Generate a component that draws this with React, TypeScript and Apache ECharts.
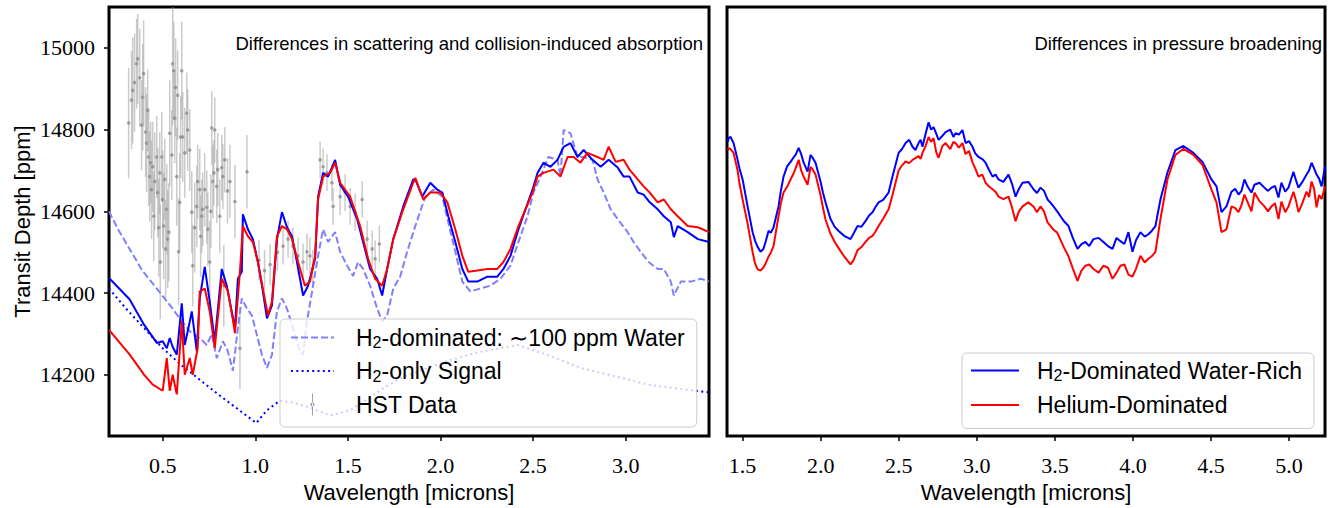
import React, { useEffect, useRef } from "react";
import * as echarts from "echarts";

// ---------- tick values ----------
const leftXTicks = [0.5, 1.0, 1.5, 2.0, 2.5, 3.0];
const rightXTicks = [1.5, 2.0, 2.5, 3.0, 3.5, 4.0, 4.5, 5.0];
const yTicks = [14200, 14400, 14600, 14800, 15000];

// ---------- left panel: H2-dominated water-rich model (solid blue) ----------
const leftH2Rich: [number, number][] = [
  [0.21, 14437], [0.321, 14385], [0.4, 14322], [0.468, 14278], [0.5, 14282], [0.522, 14265], [0.538, 14290], [0.554, 14268], [0.576, 14249], [0.603, 14375],
  [0.619, 14273], [0.646, 14330], [0.657, 14355], [0.684, 14258], [0.7, 14387], [0.727, 14464], [0.754, 14379], [0.781, 14282], [0.819, 14459], [0.846, 14418],
  [0.89, 14314], [0.906, 14435], [0.927, 14452], [0.933, 14593], [0.96, 14556], [0.987, 14532], [1.014, 14476], [1.041, 14404], [1.063, 14338], [1.09, 14370],
  [1.117, 14532], [1.144, 14598], [1.171, 14561], [1.198, 14539], [1.225, 14476], [1.258, 14394], [1.285, 14418], [1.323, 14484], [1.339, 14636], [1.366, 14694],
  [1.393, 14685], [1.431, 14726], [1.458, 14665], [1.501, 14636], [1.55, 14581], [1.582, 14525], [1.62, 14459], [1.658, 14435], [1.685, 14394], [1.712, 14459],
  [1.745, 14532], [1.799, 14612], [1.853, 14678], [1.864, 14678], [1.902, 14636], [1.945, 14670], [1.983, 14653], [2.01, 14646], [2.042, 14588], [2.08, 14525],
  [2.118, 14459], [2.15, 14428], [2.199, 14428], [2.253, 14440], [2.307, 14440], [2.34, 14459], [2.378, 14491], [2.421, 14556], [2.459, 14605], [2.497, 14653],
  [2.524, 14694], [2.556, 14719], [2.594, 14709], [2.632, 14726], [2.665, 14758], [2.702, 14767], [2.74, 14733], [2.773, 14750], [2.821, 14726], [2.865, 14709],
  [2.908, 14726], [2.957, 14707], [2.989, 14685], [3.021, 14685], [3.065, 14646], [3.097, 14641], [3.13, 14622], [3.173, 14605], [3.206, 14588], [3.244, 14573],
  [3.26, 14537], [3.281, 14564], [3.335, 14549], [3.39, 14532], [3.45, 14525],
];

// ---------- left panel: helium-dominated model (solid red) ----------
const leftHelium: [number, number][] = [
  [0.21, 14310], [0.321, 14250], [0.4, 14200], [0.446, 14176], [0.5, 14161], [0.522, 14241], [0.538, 14161], [0.554, 14200], [0.576, 14152], [0.603, 14331],
  [0.619, 14200], [0.646, 14241], [0.662, 14200], [0.689, 14265], [0.7, 14404], [0.727, 14411], [0.754, 14355], [0.781, 14265], [0.819, 14435], [0.852, 14404],
  [0.879, 14335], [0.89, 14302], [0.917, 14452], [0.933, 14564], [0.96, 14539], [0.987, 14525], [1.014, 14476], [1.041, 14411], [1.068, 14345], [1.09, 14379],
  [1.117, 14539], [1.144, 14564], [1.171, 14556], [1.198, 14532], [1.231, 14476], [1.268, 14418], [1.295, 14428], [1.323, 14491], [1.339, 14629], [1.366, 14685],
  [1.404, 14694], [1.431, 14719], [1.458, 14670], [1.512, 14636], [1.566, 14564], [1.609, 14484], [1.647, 14435], [1.685, 14418], [1.712, 14459], [1.745, 14532],
  [1.799, 14605], [1.853, 14670], [1.864, 14682], [1.907, 14629], [1.945, 14646], [1.999, 14646], [2.037, 14622], [2.08, 14556], [2.118, 14491], [2.15, 14452],
  [2.199, 14455], [2.253, 14459], [2.307, 14459], [2.34, 14476], [2.378, 14508], [2.421, 14564], [2.459, 14605], [2.497, 14646], [2.524, 14685], [2.556, 14694],
  [2.61, 14702], [2.648, 14685], [2.686, 14733], [2.719, 14733], [2.756, 14719], [2.794, 14743], [2.848, 14733], [2.881, 14726], [2.908, 14758], [2.946, 14721],
  [2.989, 14726], [3.021, 14702], [3.065, 14678], [3.097, 14661], [3.13, 14646], [3.173, 14622], [3.206, 14629], [3.244, 14605], [3.281, 14588], [3.335, 14564],
  [3.39, 14561], [3.45, 14549],
];

// ---------- left panel: H2-dominated, ~100 ppm water (dashed) ----------
const h2Dominated100ppm: [number, number][] = [
  [0.21, 14600], [0.26, 14555], [0.321, 14508], [0.39, 14455], [0.468, 14411], [0.54, 14370], [0.603, 14331], [0.65, 14305], [0.7, 14290], [0.738, 14273],
  [0.765, 14300], [0.792, 14241], [0.825, 14282], [0.85, 14260], [0.879, 14210], [0.906, 14314], [0.927, 14387], [0.955, 14362], [0.982, 14345], [1.009, 14297],
  [1.036, 14249], [1.063, 14217], [1.09, 14249], [1.117, 14355], [1.144, 14387], [1.171, 14362], [1.203, 14314], [1.241, 14258], [1.258, 14249], [1.279, 14331],
  [1.312, 14418], [1.339, 14491], [1.366, 14556], [1.393, 14525], [1.431, 14549], [1.458, 14501], [1.496, 14467], [1.528, 14442], [1.555, 14476], [1.582, 14459],
  [1.62, 14418], [1.658, 14362], [1.685, 14331], [1.712, 14345], [1.745, 14411], [1.782, 14440], [1.82, 14501], [1.864, 14564], [1.918, 14636], [1.961, 14653],
  [2.01, 14636], [2.042, 14573], [2.08, 14501], [2.118, 14428], [2.161, 14404], [2.215, 14411], [2.269, 14418], [2.324, 14435], [2.378, 14467], [2.421, 14525],
  [2.47, 14588], [2.502, 14646], [2.54, 14685], [2.583, 14733], [2.632, 14726], [2.648, 14685], [2.665, 14799], [2.702, 14791], [2.74, 14733], [2.773, 14733],
  [2.821, 14726], [2.848, 14678], [2.881, 14646], [2.919, 14605], [2.957, 14581], [3.011, 14549], [3.043, 14525], [3.081, 14501], [3.124, 14476], [3.173, 14459],
  [3.206, 14459], [3.244, 14428], [3.26, 14394], [3.298, 14428], [3.352, 14428], [3.406, 14435], [3.45, 14428],
];

// ---------- left panel: H2-only signal (dotted) ----------
const h2OnlySignal: [number, number][] = [
  [0.21, 14411], [0.3, 14363], [0.4, 14314], [0.5, 14265], [0.6, 14224], [0.7, 14188], [0.8, 14152], [0.9, 14118], [1.005, 14082], [1.063, 14113],
  [1.133, 14137], [1.203, 14132], [1.295, 14120], [1.404, 14100], [1.512, 14113], [1.604, 14140], [1.7, 14170], [1.8, 14195], [2.037, 14234], [2.2, 14255],
  [2.416, 14273], [2.6, 14245], [2.756, 14217], [3.0, 14190], [3.119, 14176], [3.3, 14165], [3.45, 14157],
];

// ---------- left panel: HST data [wavelength, depth, error] ----------
const hstData: [number, number, number][] = [
  [0.316, 14816, 135], [0.332, 14872, 120], [0.338, 14896, 130], [0.348, 14915, 120], [0.359, 14961, 110], [0.365, 14973, 110], [0.376, 14927, 120], [0.386, 14811, 110],
  [0.392, 14879, 130], [0.397, 14937, 130], [0.408, 14794, 110], [0.413, 14767, 120], [0.419, 14847, 100], [0.424, 14733, 120], [0.43, 14685, 110], [0.435, 14719, 100],
  [0.44, 14653, 120], [0.446, 14709, 110], [0.452, 14588, 110], [0.457, 14673, 120], [0.468, 14733, 100], [0.473, 14646, 110], [0.479, 14560, 120], [0.484, 14694, 100],
  [0.487, 14476, 140], [0.495, 14733, 110], [0.5, 14629, 120], [0.505, 14564, 130], [0.511, 14678, 100], [0.516, 14508, 120], [0.522, 14605, 110], [0.527, 14532, 120],
  [0.533, 14549, 120], [0.538, 14791, 130], [0.549, 14738, 110], [0.554, 14961, 150], [0.56, 14944, 120], [0.565, 14828, 110], [0.57, 14903, 120], [0.576, 14685, 120],
  [0.581, 14884, 110], [0.586, 14501, 130], [0.592, 14622, 120], [0.597, 14782, 100], [0.603, 14944, 120], [0.608, 14782, 110], [0.619, 14743, 110], [0.63, 14840, 100],
  [0.635, 14799, 100], [0.646, 14750, 100], [0.657, 14598, 100], [0.662, 14467, 100], [0.673, 14560, 110], [0.684, 14612, 100], [0.689, 14673, 90], [0.7, 14653, 100],
  [0.705, 14539, 100], [0.711, 14588, 90], [0.716, 14605, 90], [0.727, 14653, 90], [0.738, 14610, 90], [0.744, 14556, 90], [0.754, 14476, 100], [0.76, 14600, 90],
  [0.765, 14804, 90], [0.771, 14673, 90], [0.776, 14694, 80], [0.781, 14799, 80], [0.792, 14661, 90], [0.797, 14702, 90], [0.808, 14588, 90], [0.819, 14707, 80],
  [0.825, 14685, 80], [0.83, 14418, 100], [0.835, 14726, 80], [0.85, 14650, 80], [0.863, 14673, 90], [0.89, 14624, 90], [0.917, 14265, 100], [0.955, 14697, 90],
  [1.02, 14480, 50], [1.05, 14455, 50], [1.08, 14470, 50], [1.12, 14500, 45], [1.15, 14515, 45], [1.177, 14532, 45], [1.203, 14515, 45], [1.231, 14491, 45],
  [1.258, 14476, 45], [1.279, 14501, 45], [1.295, 14491, 45], [1.31, 14460, 45], [1.35, 14726, 45], [1.366, 14709, 45], [1.387, 14694, 45], [1.414, 14670, 45],
  [1.42, 14612, 45], [1.458, 14636, 45], [1.485, 14646, 45], [1.512, 14612, 45], [1.539, 14598, 45], [1.577, 14629, 45], [1.604, 14532, 45], [1.631, 14508, 45],
  [1.647, 14484, 45], [1.67, 14520, 45],
];

// ---------- right panel: H2-dominated water-rich (blue) ----------
const rightH2Rich: [number, number][] = [
  [1.405, 14770], [1.41, 14779], [1.423, 14782], [1.442, 14767], [1.468, 14726], [1.48, 14705], [1.5, 14678], [1.532, 14612], [1.564, 14549], [1.58, 14528],
  [1.596, 14513], [1.615, 14501], [1.632, 14507], [1.647, 14525], [1.666, 14552], [1.682, 14548], [1.698, 14561], [1.73, 14612], [1.745, 14650], [1.762, 14685],
  [1.785, 14710], [1.807, 14721], [1.823, 14730], [1.839, 14738], [1.859, 14755], [1.875, 14740], [1.891, 14719], [1.916, 14697], [1.935, 14738], [1.95, 14730],
  [1.967, 14719], [1.999, 14673], [2.015, 14645], [2.031, 14622], [2.063, 14581], [2.09, 14562], [2.115, 14552], [2.15, 14540], [2.191, 14532], [2.21, 14545],
  [2.236, 14564], [2.26, 14562], [2.287, 14576], [2.31, 14590], [2.332, 14598], [2.35, 14610], [2.371, 14622], [2.4, 14628], [2.435, 14646], [2.46, 14685],
  [2.499, 14743], [2.52, 14752], [2.544, 14767], [2.567, 14775], [2.588, 14758], [2.607, 14750], [2.627, 14767], [2.64, 14775], [2.652, 14758], [2.672, 14790],
  [2.691, 14818], [2.707, 14800], [2.723, 14806], [2.74, 14790], [2.755, 14775], [2.78, 14785], [2.8, 14794], [2.83, 14800], [2.85, 14782], [2.864, 14791],
  [2.885, 14788], [2.908, 14799], [2.928, 14767], [2.95, 14772], [2.972, 14758], [2.99, 14742], [3.011, 14733], [3.035, 14728], [3.056, 14719], [3.08, 14700],
  [3.101, 14685], [3.12, 14690], [3.139, 14678], [3.17, 14672], [3.203, 14690], [3.225, 14668], [3.248, 14636], [3.27, 14655], [3.293, 14670], [3.33, 14672],
  [3.363, 14654], [3.385, 14645], [3.408, 14658], [3.43, 14650], [3.453, 14629], [3.47, 14622], [3.491, 14612], [3.515, 14600], [3.536, 14588], [3.56, 14575],
  [3.587, 14564], [3.615, 14535], [3.645, 14508], [3.67, 14520], [3.696, 14525], [3.72, 14515], [3.747, 14532], [3.78, 14535], [3.811, 14525], [3.84, 14515],
  [3.869, 14508], [3.895, 14535], [3.92, 14527], [3.945, 14520], [3.971, 14549], [3.997, 14501], [4.02, 14530], [4.048, 14549], [4.075, 14538], [4.099, 14544],
  [4.12, 14552], [4.144, 14564], [4.176, 14629], [4.221, 14695], [4.272, 14750], [4.323, 14760], [4.387, 14743], [4.445, 14721], [4.503, 14678], [4.535, 14661],
  [4.567, 14598], [4.599, 14612], [4.615, 14630], [4.631, 14648], [4.655, 14655], [4.676, 14641], [4.695, 14650], [4.714, 14678], [4.735, 14660], [4.759, 14646],
  [4.778, 14665], [4.81, 14670], [4.842, 14658], [4.865, 14650], [4.887, 14658], [4.91, 14662], [4.932, 14634], [4.951, 14670], [4.975, 14648], [4.996, 14658],
  [5.028, 14697], [5.045, 14675], [5.06, 14658], [5.085, 14672], [5.112, 14690], [5.128, 14700], [5.144, 14719], [5.16, 14705], [5.176, 14690], [5.192, 14680],
  [5.208, 14661], [5.23, 14709],
];

// ---------- right panel: helium-dominated (red) ----------
const rightHelium: [number, number][] = [
  [1.405, 14750], [1.41, 14755], [1.423, 14752], [1.442, 14743], [1.468, 14700], [1.48, 14668], [1.5, 14629], [1.532, 14570], [1.564, 14500], [1.58, 14472],
  [1.596, 14458], [1.615, 14455], [1.632, 14462], [1.647, 14472], [1.666, 14489], [1.682, 14500], [1.698, 14515], [1.73, 14588], [1.745, 14620], [1.762, 14646],
  [1.785, 14660], [1.807, 14678], [1.823, 14690], [1.839, 14705], [1.859, 14726], [1.875, 14700], [1.891, 14685], [1.916, 14665], [1.935, 14709], [1.95, 14702],
  [1.967, 14690], [1.999, 14640], [2.015, 14608], [2.031, 14580], [2.063, 14545], [2.09, 14525], [2.115, 14510], [2.15, 14490], [2.191, 14470], [2.21, 14480],
  [2.236, 14505], [2.26, 14512], [2.287, 14525], [2.31, 14535], [2.332, 14540], [2.35, 14550], [2.371, 14564], [2.4, 14582], [2.435, 14605], [2.46, 14640],
  [2.499, 14700], [2.52, 14712], [2.544, 14722], [2.567, 14718], [2.588, 14726], [2.607, 14730], [2.627, 14735], [2.64, 14728], [2.652, 14743], [2.672, 14760],
  [2.691, 14782], [2.707, 14770], [2.723, 14779], [2.74, 14745], [2.755, 14731], [2.78, 14760], [2.8, 14767], [2.83, 14752], [2.85, 14770], [2.864, 14767],
  [2.885, 14756], [2.908, 14767], [2.928, 14740], [2.95, 14748], [2.972, 14720], [2.99, 14705], [3.011, 14685], [3.035, 14690], [3.056, 14670], [3.08, 14660],
  [3.101, 14654], [3.12, 14648], [3.139, 14636], [3.17, 14630], [3.203, 14636], [3.225, 14610], [3.248, 14576], [3.27, 14600], [3.293, 14612], [3.33, 14622],
  [3.363, 14612], [3.385, 14598], [3.408, 14612], [3.43, 14600], [3.453, 14573], [3.47, 14565], [3.491, 14555], [3.515, 14548], [3.536, 14530], [3.56, 14510],
  [3.587, 14490], [3.615, 14460], [3.645, 14430], [3.67, 14455], [3.696, 14467], [3.72, 14470], [3.747, 14459], [3.78, 14450], [3.811, 14467], [3.84, 14462],
  [3.869, 14435], [3.895, 14450], [3.92, 14467], [3.945, 14470], [3.971, 14445], [3.997, 14440], [4.02, 14460], [4.048, 14491], [4.075, 14475], [4.099, 14484],
  [4.12, 14490], [4.144, 14501], [4.176, 14581], [4.221, 14678], [4.272, 14738], [4.323, 14753], [4.387, 14738], [4.445, 14714], [4.503, 14653], [4.535, 14622],
  [4.567, 14549], [4.599, 14556], [4.615, 14585], [4.631, 14612], [4.655, 14608], [4.676, 14598], [4.695, 14615], [4.714, 14641], [4.735, 14622], [4.759, 14600],
  [4.778, 14646], [4.81, 14625], [4.842, 14612], [4.865, 14600], [4.887, 14612], [4.91, 14620], [4.932, 14581], [4.951, 14624], [4.975, 14598], [4.996, 14612],
  [5.028, 14648], [5.045, 14625], [5.06, 14598], [5.085, 14620], [5.112, 14648], [5.128, 14635], [5.144, 14673], [5.16, 14655], [5.176, 14610], [5.192, 14640],
  [5.208, 14630], [5.23, 14661],
];

const SANS = "Liberation Sans, Arial, Helvetica, sans-serif";
const SERIF = "Liberation Serif";

const NAME_H2DOM = "H2-dominated: ~100 ppm Water";
const NAME_H2ONLY = "H2-only Signal";
const NAME_HST = "HST Data";
const NAME_RICH = "H2-Dominated Water-Rich";
const NAME_HE = "Helium-Dominated";

const legendLabel: Record<string, string> = {
  [NAME_H2DOM]: "{p|H}{s|2}{n|-dominated: \u223C100 ppm Water}",
  [NAME_H2ONLY]: "{p|H}{s|2}{n|-only Signal}",
  [NAME_HST]: "{p|HST Data}",
  [NAME_RICH]: "{q|H}{s|2}{n|-Dominated Water-Rich}",
  [NAME_HE]: "{q|Helium-Dominated}",
};

const FS = 23;
const richStyles = {
  p: { fontSize: FS, fontFamily: SANS, color: "#000", lineHeight: 22, height: 22, padding: [0, 0, 0, 17] },
  q: { fontSize: FS, fontFamily: SANS, color: "#000", lineHeight: 22, height: 22, padding: [0, 0, 0, 13] },
  n: { fontSize: FS, fontFamily: SANS, color: "#000", lineHeight: 22, height: 22 },
  s: { fontSize: 16, fontFamily: SANS, color: "#000", lineHeight: 12, height: 12, padding: [10, 0, 0, 0] },
};

const hiddenSymbol = { opacity: 0 };

const xAxisCommon = (ticks: number[]) => ({
  type: "value" as const,
  splitLine: { show: false },
  axisLine: { show: false },
  axisTick: { show: true, customValues: ticks, length: 5, lineStyle: { color: "#000", width: 1.5 } },
  axisLabel: {
    customValues: ticks,
    formatter: (v: number) => v.toFixed(1),
    fontFamily: SERIF,
    fontSize: 22,
    color: "#000",
    margin: 18,
  },
  name: "Wavelength [microns]",
  nameLocation: "middle" as const,
  nameGap: 44,
  nameTextStyle: { fontFamily: SANS, fontSize: 22, color: "#000" },
});

export default function App() {
  const ref = useRef<HTMLDivElement>(null);
  useEffect(() => {
    if (!ref.current) return;
    const chart = echarts.init(ref.current, undefined, { renderer: "svg" });
    const option: any = {
      animation: false,
      backgroundColor: "#fff",
      grid: [
        { left: 109, top: 7, width: 600, height: 431, show: true, borderColor: "#000", borderWidth: 3, backgroundColor: "transparent" },
        { left: 727, top: 7, width: 598, height: 431, show: true, borderColor: "#000", borderWidth: 3, backgroundColor: "transparent" },
      ],
      xAxis: [
        { ...xAxisCommon(leftXTicks), gridIndex: 0, min: 0.21, max: 3.45 },
        { ...xAxisCommon(rightXTicks), gridIndex: 1, min: 1.4, max: 5.23 },
      ],
      yAxis: [
        {
          type: "value",
          gridIndex: 0,
          min: 14050,
          max: 15100,
          splitLine: { show: false },
          axisLine: { show: false },
          axisTick: { show: true, customValues: yTicks, length: 5, lineStyle: { color: "#000", width: 1.5 } },
          axisLabel: {
            customValues: yTicks,
            formatter: (v: number) => String(Math.round(v)),
            fontFamily: SERIF,
            fontSize: 22,
            color: "#000",
            margin: 14,
          },
          name: "Transit Depth [ppm]",
          nameLocation: "middle",
          nameGap: 76,
          nameTextStyle: { fontFamily: SANS, fontSize: 22, color: "#000" },
        },
        {
          type: "value",
          gridIndex: 1,
          min: 14050,
          max: 15100,
          splitLine: { show: false },
          axisLine: { show: false },
          axisTick: { show: false },
          axisLabel: { show: false },
        },
      ],
      legend: [
        {
          orient: "vertical",
          left: 280,
          top: 319,
          padding: [7, 12, 11, 10],
          itemWidth: 43,
          itemHeight: 22,
          itemGap: 9,
          selectedMode: false,
          backgroundColor: "rgba(255,255,255,0.8)",
          borderColor: "#cccccc",
          borderWidth: 1,
          borderRadius: 5,
          lineStyle: { width: 2 },
          data: [
            { name: NAME_H2DOM, itemStyle: hiddenSymbol },
            { name: NAME_H2ONLY, itemStyle: hiddenSymbol },
            {
              name: NAME_HST,
              icon: "path://M1.55,0 L2.45,0 L2.45,22 L1.55,22 Z M0,11 A2,2 0 1 0 4,11 A2,2 0 1 0 0,11 Z",
              itemStyle: { color: "rgba(120,120,120,0.75)" },
            },
          ],
          formatter: (name: string) => legendLabel[name] || name,
          textStyle: { fontSize: FS, lineHeight: 22, fontFamily: SANS, color: "#000", rich: richStyles },
        },
        {
          orient: "vertical",
          left: 962,
          top: 353,
          padding: [6, 12, 12, 8],
          itemWidth: 48,
          itemHeight: 22,
          itemGap: 10,
          selectedMode: false,
          backgroundColor: "rgba(255,255,255,0.8)",
          borderColor: "#cccccc",
          borderWidth: 1,
          borderRadius: 5,
          lineStyle: { width: 2 },
          data: [
            { name: NAME_RICH, itemStyle: hiddenSymbol },
            { name: NAME_HE, itemStyle: hiddenSymbol },
          ],
          formatter: (name: string) => legendLabel[name] || name,
          textStyle: { fontSize: FS, lineHeight: 22, fontFamily: SANS, color: "#000", rich: richStyles },
        },
      ],
      graphic: [
        {
          type: "text",
          x: 703,
          y: 43,
          z: 100,
          style: {
            text: "Differences in scattering and collision-induced absorption",
            font: `18.5px ${SANS}`,
            fill: "#000",
            align: "right",
            verticalAlign: "middle",
            textAlign: "right",
            textVerticalAlign: "middle",
          },
        },
        {
          type: "text",
          x: 1322,
          y: 43,
          z: 100,
          style: {
            text: "Differences in pressure broadening",
            font: `18.5px ${SANS}`,
            fill: "#000",
            align: "right",
            verticalAlign: "middle",
            textAlign: "right",
            textVerticalAlign: "middle",
          },
        },
      ],
      series: [
        {
          name: NAME_HST,
          type: "custom",
          xAxisIndex: 0,
          yAxisIndex: 0,
          z: 1,
          itemStyle: { color: "rgba(140,140,140,0.7)" },
          encode: { x: 0, y: 1 },
          data: hstData,
          renderItem: (params: any, api: any) => {
            const x = api.value(0);
            const y = api.value(1);
            const e = api.value(2);
            const c = api.coord([x, y]);
            const t = api.coord([x, y + e]);
            const b = api.coord([x, y - e]);
            const cs = params.coordSys;
            const top = Math.max(t[1], cs.y);
            const bot = Math.min(b[1], cs.y + cs.height);
            return {
              type: "group",
              children: [
                { type: "line", shape: { x1: c[0], y1: top, x2: c[0], y2: bot }, style: { stroke: "rgba(160,160,160,0.55)", lineWidth: 1.5 } },
                { type: "circle", shape: { cx: c[0], cy: c[1], r: 1.8 }, style: { fill: "rgba(130,130,130,0.7)" } },
              ],
            };
          },
        },
        {
          name: NAME_H2DOM,
          type: "line",
          xAxisIndex: 0,
          yAxisIndex: 0,
          symbol: "none",
          z: 2,
          color: "#8080ff",
          lineStyle: { color: "#8080ff", width: 2, type: [7, 3] },
          data: h2Dominated100ppm,
        },
        {
          name: NAME_H2ONLY,
          type: "line",
          xAxisIndex: 0,
          yAxisIndex: 0,
          symbol: "none",
          z: 2,
          color: "#0000ff",
          lineStyle: { color: "#0000ff", width: 2, type: [2, 3.3] },
          data: h2OnlySignal,
        },
        {
          name: "left-h2-rich",
          type: "line",
          xAxisIndex: 0,
          yAxisIndex: 0,
          symbol: "none",
          z: 3,
          color: "#0000ff",
          lineStyle: { color: "#0000ff", width: 2 },
          data: leftH2Rich,
        },
        {
          name: "left-helium",
          type: "line",
          xAxisIndex: 0,
          yAxisIndex: 0,
          symbol: "none",
          z: 3,
          color: "#ff0000",
          lineStyle: { color: "#ff0000", width: 2 },
          data: leftHelium,
        },
        {
          name: NAME_RICH,
          type: "line",
          xAxisIndex: 1,
          yAxisIndex: 1,
          symbol: "none",
          z: 3,
          color: "#0000ff",
          lineStyle: { color: "#0000ff", width: 2 },
          data: rightH2Rich,
        },
        {
          name: NAME_HE,
          type: "line",
          xAxisIndex: 1,
          yAxisIndex: 1,
          symbol: "none",
          z: 3,
          color: "#ff0000",
          lineStyle: { color: "#ff0000", width: 2 },
          data: rightHelium,
        },
      ],
    };
    chart.setOption(option);
    return () => chart.dispose();
  }, []);
  return <div ref={ref} style={{ position: "fixed", left: 0, top: 0, width: 1330, height: 508 }} />;
}
